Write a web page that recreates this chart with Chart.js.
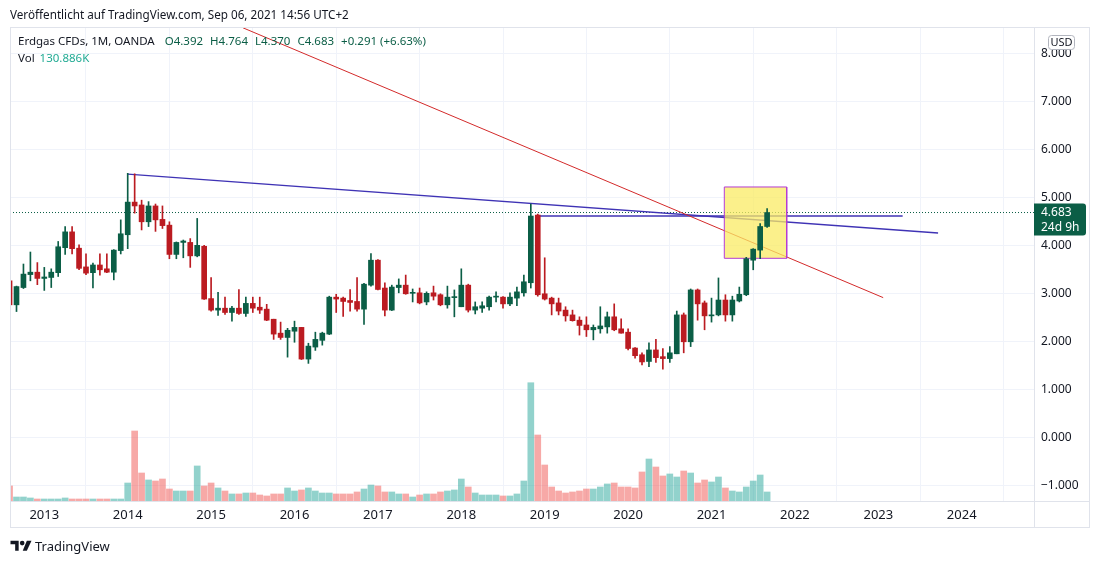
<!DOCTYPE html>
<html>
<head>
<meta charset="utf-8">
<script src="https://cdn.jsdelivr.net/npm/chart.js@4.4.1/dist/chart.umd.min.js"></script>
<style>
  body { margin: 0; background: #fff; font-family: 'Noto Sans', sans-serif; color: #131722; }
  #wrap { position: relative; width: 1100px; height: 564px; overflow: hidden; }
  canvas { position: absolute; left: 0; top: 0; }
  .txt { position: absolute; white-space: nowrap; }
  .g { color: #0b5e46; }
  #pub { left: 10px; top: 6px; font-size: 11.7px; }
  #leg1 { left: 18px; top: 33px; font-size: 11.5px; }
  #leg1 span { margin-left: 7px; }
  #leg2 { left: 18px; top: 50px; font-size: 11.5px; }
  #leg2 span { margin-left: 5px; color: #22ab94; }
  #brand { left: 10px; top: 537px; font-size: 13px; display: flex; align-items: center; }
  #brand svg { margin-right: 3px; }
</style>
</head>
<body>
<div id="wrap">
  <canvas id="chart" width="1100" height="564"></canvas>
  <div class="txt" id="pub">Veröffentlicht auf TradingView.com, Sep 06, 2021 14:56 UTC+2</div>
  <div class="txt" id="leg1">Erdgas CFDs, 1M, OANDA <span class="g" id="lo"></span><span class="g" id="lh"></span><span class="g" id="ll"></span><span class="g" id="lc"></span><span class="g" id="lchg"></span></div>
  <div class="txt" id="leg2">Vol<span id="lvol"></span></div>
  <div class="txt" id="brand">
    <svg width="22" height="14" viewBox="0 0 36 24"><path d="M14 20H8V9H0V3h14z" fill="#131722"/><circle cx="20" cy="7" r="4" fill="#131722"/><path d="M28 20h-7l7-17h8z" fill="#131722"/></svg>
    TradingView
  </div>
</div>
<script>
// Monatskerzen Erdgas (OANDA), Aug 2012 – Sep 2021
const months = [
  '2012-08','2012-09','2012-10','2012-11','2012-12',
  '2013-01','2013-02','2013-03','2013-04','2013-05','2013-06','2013-07','2013-08','2013-09','2013-10','2013-11','2013-12',
  '2014-01','2014-02','2014-03','2014-04','2014-05','2014-06','2014-07','2014-08','2014-09','2014-10','2014-11','2014-12',
  '2015-01','2015-02','2015-03','2015-04','2015-05','2015-06','2015-07','2015-08','2015-09','2015-10','2015-11','2015-12',
  '2016-01','2016-02','2016-03','2016-04','2016-05','2016-06','2016-07','2016-08','2016-09','2016-10','2016-11','2016-12',
  '2017-01','2017-02','2017-03','2017-04','2017-05','2017-06','2017-07','2017-08','2017-09','2017-10','2017-11','2017-12',
  '2018-01','2018-02','2018-03','2018-04','2018-05','2018-06','2018-07','2018-08','2018-09','2018-10','2018-11','2018-12',
  '2019-01','2019-02','2019-03','2019-04','2019-05','2019-06','2019-07','2019-08','2019-09','2019-10','2019-11','2019-12',
  '2020-01','2020-02','2020-03','2020-04','2020-05','2020-06','2020-07','2020-08','2020-09','2020-10','2020-11','2020-12',
  '2021-01','2021-02','2021-03','2021-04','2021-05','2021-06','2021-07','2021-08','2021-09'
];
const opens = [
  3.26, 2.76, 3.12, 3.39, 3.44,
  3.31, 3.33, 3.43, 3.95, 4.28, 3.94, 3.55, 3.43, 3.59, 3.51, 3.44, 3.89,
  4.22, 4.90, 4.84, 4.49, 4.82, 4.54, 4.42, 3.81, 4.06, 4.06, 3.78, 3.98,
  2.89, 2.65, 2.69, 2.60, 2.69, 2.58, 2.79, 2.71, 2.67, 2.46, 2.17, 2.08,
  2.21, 2.29, 1.63, 1.88, 2.02, 2.15, 2.92, 2.90, 2.85, 2.83, 2.67, 3.17,
  3.69, 3.11, 2.65, 3.12, 3.17, 3.00, 3.01, 2.82, 3.01, 2.97, 2.76, 2.91,
  2.72, 3.17, 2.65, 2.69, 2.72, 2.92, 2.92, 2.78, 2.90, 3.01, 3.22, 4.63,
  2.99, 2.90, 2.80, 2.65, 2.55, 2.44, 2.34, 2.24, 2.26, 2.30, 2.51, 2.26,
  2.19, 1.86, 1.72, 1.58, 1.82, 1.68, 1.64, 1.74, 2.55, 1.99, 3.07, 2.80,
  2.53, 2.55, 2.86, 2.55, 2.84, 2.97, 3.69, 3.90, 4.392
];
const highs = [
  3.30, 3.15, 3.61, 3.86, 3.64,
  3.54, 3.51, 4.08, 4.39, 4.39, 4.01, 3.82, 3.63, 3.82, 3.82, 3.91, 4.53,
  5.50, 5.49, 4.94, 4.91, 4.86, 4.82, 4.49, 4.07, 4.11, 4.14, 4.56, 4.00,
  3.33, 3.02, 2.92, 2.73, 3.08, 2.92, 2.92, 2.92, 2.77, 2.46, 2.40, 2.27,
  2.42, 2.29, 1.96, 2.19, 2.19, 2.94, 2.98, 2.92, 3.08, 3.33, 3.21, 3.83,
  3.70, 3.22, 3.17, 3.30, 3.38, 3.09, 3.11, 3.03, 3.15, 2.99, 3.15, 3.07,
  3.51, 3.19, 2.82, 2.82, 2.94, 3.03, 2.93, 3.01, 3.13, 3.38, 4.86, 4.65,
  3.74, 2.92, 2.90, 2.72, 2.65, 2.51, 2.51, 2.34, 2.72, 2.61, 2.78, 2.47,
  2.26, 1.87, 1.76, 1.97, 2.04, 1.85, 1.89, 2.63, 2.59, 3.09, 3.09, 2.84,
  2.90, 3.32, 2.97, 2.94, 3.13, 3.75, 3.93, 4.45, 4.764
];
const lows = [
  2.70, 2.62, 3.10, 3.26, 3.18,
  3.06, 3.12, 3.35, 3.81, 3.82, 3.49, 3.39, 3.11, 3.38, 3.43, 3.28, 3.82,
  3.93, 4.67, 4.32, 4.39, 4.29, 4.35, 3.72, 3.72, 3.74, 3.54, 3.76, 2.87,
  2.63, 2.54, 2.56, 2.42, 2.56, 2.52, 2.60, 2.58, 2.43, 2.04, 2.04, 1.67,
  1.98, 1.62, 1.54, 1.81, 1.92, 2.14, 2.60, 2.52, 2.63, 2.63, 2.35, 3.15,
  3.07, 2.53, 2.64, 3.01, 2.98, 2.82, 2.78, 2.76, 2.86, 2.74, 2.69, 2.51,
  2.72, 2.61, 2.57, 2.60, 2.65, 2.82, 2.69, 2.74, 2.74, 2.94, 3.11, 2.94,
  2.86, 2.55, 2.55, 2.42, 2.42, 2.13, 2.10, 2.03, 2.17, 2.17, 2.22, 2.17,
  1.82, 1.65, 1.51, 1.47, 1.56, 1.42, 1.56, 1.74, 1.76, 1.89, 2.44, 2.24,
  2.40, 2.53, 2.42, 2.42, 2.82, 2.95, 3.49, 3.72, 4.370
];
const closes = [
  2.76, 3.14, 3.40, 3.44, 3.31,
  3.34, 3.44, 3.97, 4.28, 3.93, 3.52, 3.42, 3.59, 3.49, 3.44, 3.90, 4.24,
  4.90, 4.82, 4.49, 4.82, 4.53, 4.41, 3.81, 4.06, 4.09, 3.78, 4.00, 2.88,
  2.65, 2.69, 2.60, 2.69, 2.58, 2.79, 2.69, 2.65, 2.44, 2.15, 2.08, 2.23,
  2.29, 1.63, 1.90, 2.04, 2.17, 2.92, 2.88, 2.83, 2.81, 2.67, 3.19, 3.69,
  3.08, 2.65, 3.13, 3.17, 2.99, 3.01, 2.80, 3.00, 2.94, 2.76, 2.92, 2.93,
  3.17, 2.65, 2.72, 2.74, 2.92, 2.93, 2.78, 2.92, 3.03, 3.24, 4.61, 2.97,
  2.88, 2.78, 2.63, 2.53, 2.43, 2.33, 2.24, 2.29, 2.32, 2.51, 2.24, 2.17,
  1.85, 1.70, 1.57, 1.82, 1.66, 1.64, 1.76, 2.55, 1.99, 3.07, 2.78, 2.53,
  2.55, 2.86, 2.55, 2.86, 2.98, 3.72, 3.92, 4.392, 4.683
];
// Volumen in Tausend
const volumes = [
  218, 58, 58, 44, 29,
  29, 29, 29, 44, 29, 29, 29, 29, 29, 29, 29, 29,
  261, 1015, 406, 305, 290, 319, 174, 145, 145, 145, 508, 218,
  261, 189, 145, 102, 102, 116, 116, 87, 73, 102, 102, 189,
  145, 160, 189, 145, 116, 116, 102, 102, 102, 131, 174, 232,
  218, 131, 131, 102, 102, 58, 87, 102, 102, 131, 145, 160,
  319, 203, 116, 87, 87, 87, 73, 73, 102, 290, 1715, 957,
  522, 203, 145, 116, 131, 145, 174, 174, 203, 247, 261, 203,
  203, 189, 421, 609, 493, 363, 392, 348, 435, 406, 261, 305,
  276, 348, 189, 145, 131, 203, 290, 377, 130.886
];
const yearTicks = [2013, 2014, 2015, 2016, 2017, 2018, 2019, 2020, 2021, 2022, 2023, 2024];
const priceTicks = [-1, 0, 1, 2, 3, 4, 5, 6, 7, 8];

// Zeichnungen: [Monatsindex ab Jan 2012, Preis]
const redTrend = [[40.6, 8.53], [132.7, 2.91]];
const blueTrend = [[24, 5.485], [140.6, 4.256]];
const blueLevel = [[82.85, 4.61], [135.5, 4.61]];
const zoneX = [109.84, 118.82];
const zoneY = [3.729, 5.215];

const upColor = '#0b5e46';
const downColor = '#bb1b21';
const volUp = 'rgba(38, 166, 154, 0.5)';
const volDown = 'rgba(239, 83, 80, 0.5)';
const gridColor = '#f0f3fa';
const frameColor = '#e0e3eb';
const fontFam = "'Noto Sans', sans-serif";

// sichtbarer Bereich
const xMin = 7.065, xMax = 154.4;
const yMin = -1.327, yMax = 8.548;

function monthIndex(s) {
    return (parseInt(s.slice(0, 4)) - 2012) * 12 + parseInt(s.slice(5, 7)) - 1;
}
const xs = months.map(monthIndex);
const isUp = i => closes[i] >= opens[i];
const toPts = arr => arr.map(p => ({x: p[0], y: p[1]}));
const last = closes.length - 1;

// Legende
const fmt = v => v.toFixed(3);
document.getElementById('lo').textContent = 'O' + fmt(opens[last]);
document.getElementById('lh').textContent = 'H' + fmt(highs[last]);
document.getElementById('ll').textContent = 'L' + fmt(lows[last]);
document.getElementById('lc').textContent = 'C' + fmt(closes[last]);
const chg = closes[last] - closes[last - 1];
document.getElementById('lchg').textContent = '+' + fmt(chg) + ' (+' + (chg / closes[last - 1] * 100).toFixed(2) + '%)';
document.getElementById('lvol').textContent = fmt(volumes[last]) + 'K';

const overlay = {
    id: 'overlay',
    afterDraw(chart) {
        const {ctx, chartArea: a, scales} = chart;
        const outerR = scales.y.right, outerB = scales.x.bottom;
        ctx.save();
        // Rahmen
        ctx.strokeStyle = frameColor;
        ctx.lineWidth = 1;
        ctx.strokeRect(a.left + 0.5, a.top + 0.5, outerR - a.left - 1, outerB - a.top - 1);
        ctx.beginPath();
        ctx.moveTo(a.right + 0.5, a.top);
        ctx.lineTo(a.right + 0.5, outerB);
        ctx.moveTo(a.left, a.bottom + 0.5);
        ctx.lineTo(outerR, a.bottom + 0.5);
        ctx.stroke();

        // Kursmarke
        const py = scales.y.getPixelForValue(closes[last]);
        ctx.fillStyle = upColor;
        ctx.beginPath();
        ctx.roundRect(a.right, py - 9, 52, 32, [0, 3, 3, 0]);
        ctx.fill();
        ctx.fillStyle = '#fff';
        ctx.font = '12px ' + fontFam;
        ctx.textBaseline = 'middle';
        ctx.fillText(fmt(closes[last]), a.right + 7, py);
        ctx.fillText('24d 9h', a.right + 7, py + 15);

        // Währung
        ctx.fillStyle = '#fff';
        ctx.strokeStyle = '#b2b5be';
        ctx.beginPath();
        ctx.roundRect(a.right + 14.5, a.top + 8.5, 26, 14, 3);
        ctx.fill();
        ctx.stroke();
        ctx.fillStyle = '#131722';
        ctx.font = '11px ' + fontFam;
        ctx.textAlign = 'center';
        ctx.fillText('USD', a.right + 27.5, a.top + 16);
        ctx.restore();
    }
};

const lineBase = {type: 'line', pointRadius: 0, fill: false, tension: 0, borderWidth: 1};

new Chart(document.getElementById('chart'), {
    type: 'bar',
    data: {
        datasets: [
            {
                label: 'Körper',
                data: xs.map((x, i) => ({x: x, y: [opens[i], closes[i]]})),
                backgroundColor: ctx => isUp(ctx.dataIndex) ? upColor : downColor,
                barThickness: 5, minBarLength: 1, grouped: false, order: 1
            },
            {
                label: 'Docht',
                data: xs.map((x, i) => ({x: x, y: [lows[i], highs[i]]})),
                backgroundColor: ctx => isUp(ctx.dataIndex) ? upColor : downColor,
                barThickness: 1, grouped: false, order: 2
            },
            Object.assign({}, lineBase, {
                label: 'Zone Rand',
                data: toPts([[zoneX[0], zoneY[0]], [zoneX[0], zoneY[1]], [zoneX[1], zoneY[1]], [zoneX[1], zoneY[0]], [zoneX[0], zoneY[0]]]),
                borderColor: '#b43bd3', order: 3
            }),
            Object.assign({}, lineBase, {
                label: 'Zone',
                data: toPts([[zoneX[0], zoneY[1]], [zoneX[1], zoneY[1]]]),
                borderWidth: 0, borderColor: 'rgba(0,0,0,0)',
                backgroundColor: 'rgba(250, 235, 100, 0.75)',
                fill: {value: zoneY[0]}, order: 4
            }),
            Object.assign({}, lineBase, {
                label: 'Abwärtstrend', data: toPts(redTrend), borderColor: '#d32a2a', order: 5
            }),
            Object.assign({}, lineBase, {
                label: 'Trendlinie', data: toPts(blueTrend), borderColor: '#3f33b5', borderWidth: 1.3, order: 6
            }),
            Object.assign({}, lineBase, {
                label: 'Niveau', data: toPts(blueLevel), borderColor: '#3f33b5', borderWidth: 1.3, order: 7
            }),
            Object.assign({}, lineBase, {
                label: 'Letzter Kurs',
                data: [{x: xMin, y: closes[last]}, {x: xMax, y: closes[last]}],
                borderColor: upColor, borderDash: [1, 2], order: 8
            }),
            {
                label: 'Vol',
                data: xs.map((x, i) => ({x: x, y: volumes[i]})),
                backgroundColor: ctx => isUp(ctx.dataIndex) ? volUp : volDown,
                yAxisID: 'v', barThickness: 6, grouped: false, order: 9
            }
        ]
    },
    options: {
        responsive: false,
        animation: false,
        layout: {padding: {left: 10, top: 27, right: 10, bottom: 36}},
        plugins: {legend: {display: false}, tooltip: {enabled: false}},
        scales: {
            x: {
                type: 'linear', min: xMin, max: xMax, offset: false,
                afterBuildTicks: s => { s.ticks = yearTicks.map(y => ({value: (y - 2012) * 12})); },
                afterFit: s => { s.height = 27; },
                grid: {color: gridColor, drawTicks: false},
                border: {display: false},
                ticks: {
                    padding: 6, autoSkip: false, maxRotation: 0, color: '#131722',
                    font: {size: 13, family: fontFam},
                    callback: v => String(2012 + Math.round(v / 12))
                }
            },
            y: {
                position: 'right', min: yMin, max: yMax,
                afterBuildTicks: s => { s.ticks = priceTicks.map(v => ({value: v})); },
                afterFit: s => { s.width = 56; },
                grid: {color: gridColor, drawTicks: false},
                border: {display: false},
                ticks: {
                    padding: 7, color: '#131722',
                    font: {size: 12, family: fontFam},
                    callback: v => (v < 0 ? '\u2212' : '') + Math.abs(v).toFixed(3)
                }
            },
            v: {display: false, min: 0, max: 6873}
        }
    },
    plugins: [overlay]
});
</script>
</body>
</html>
